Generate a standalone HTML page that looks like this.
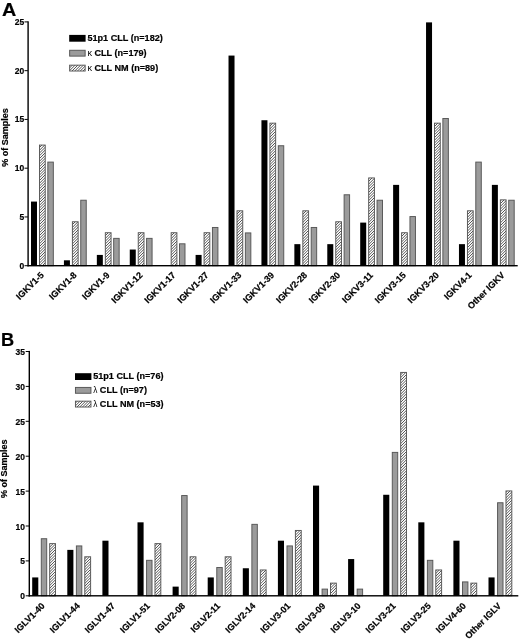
<!DOCTYPE html>
<html lang="en"><head><meta charset="utf-8"><title>IGKV / IGLV usage</title>
<style>html,body{margin:0;padding:0;background:#fff}svg{display:block;will-change:transform}text{font-family:'Liberation Sans', Arial, Helvetica, sans-serif;font-weight:bold;fill:#000;stroke:#000;stroke-width:0.2px}</style>
</head><body>
<svg width="520" height="639" viewBox="0 0 520 639">
<defs><pattern id="h" width="11" height="11" patternUnits="userSpaceOnUse"><rect width="11" height="11" fill="#fff"/><path d="M-1.00,1.00L1.00,-1.00M-1.00,3.75L3.75,-1.00M-1.00,6.50L6.50,-1.00M-1.00,9.25L9.25,-1.00M-1.00,12.00L12.00,-1.00M-1.00,14.75L14.75,-1.00M-1.00,17.50L17.50,-1.00M-1.00,20.25L20.25,-1.00M-1.00,23.00L23.00,-1.00" stroke="#404040" stroke-width="0.9" fill="none"/></pattern></defs>
<rect width="520" height="639" fill="#fff"/>
<text transform="translate(2,15.6) scale(1.04,1)" font-size="19">A</text>
<rect x="31.00" y="201.58" width="6.00" height="64.12" fill="#000"/>
<rect x="39.48" y="145.07" width="5.74" height="120.63" fill="url(#h)" stroke="#555" stroke-width="0.95"/>
<rect x="47.83" y="162.09" width="5.49" height="103.61" fill="#9b9b9b" stroke="#555" stroke-width="0.95"/>
<rect x="63.92" y="260.31" width="6.00" height="5.39" fill="#000"/>
<rect x="72.40" y="221.77" width="5.74" height="43.93" fill="url(#h)" stroke="#555" stroke-width="0.95"/>
<rect x="80.75" y="200.22" width="5.49" height="65.48" fill="#9b9b9b" stroke="#555" stroke-width="0.95"/>
<rect x="96.84" y="254.92" width="6.00" height="10.78" fill="#000"/>
<rect x="105.32" y="232.73" width="5.74" height="32.97" fill="url(#h)" stroke="#555" stroke-width="0.95"/>
<rect x="113.67" y="238.36" width="5.49" height="27.34" fill="#9b9b9b" stroke="#555" stroke-width="0.95"/>
<rect x="129.76" y="249.54" width="6.00" height="16.16" fill="#000"/>
<rect x="138.24" y="232.73" width="5.74" height="32.97" fill="url(#h)" stroke="#555" stroke-width="0.95"/>
<rect x="146.59" y="238.36" width="5.49" height="27.34" fill="#9b9b9b" stroke="#555" stroke-width="0.95"/>
<rect x="171.16" y="232.73" width="5.74" height="32.97" fill="url(#h)" stroke="#555" stroke-width="0.95"/>
<rect x="179.51" y="243.81" width="5.49" height="21.89" fill="#9b9b9b" stroke="#555" stroke-width="0.95"/>
<rect x="195.60" y="254.92" width="6.00" height="10.78" fill="#000"/>
<rect x="204.08" y="232.73" width="5.74" height="32.97" fill="url(#h)" stroke="#555" stroke-width="0.95"/>
<rect x="212.43" y="227.46" width="5.49" height="38.24" fill="#9b9b9b" stroke="#555" stroke-width="0.95"/>
<rect x="228.52" y="55.57" width="6.00" height="210.13" fill="#000"/>
<rect x="237.00" y="210.81" width="5.74" height="54.89" fill="url(#h)" stroke="#555" stroke-width="0.95"/>
<rect x="245.35" y="232.91" width="5.49" height="32.79" fill="#9b9b9b" stroke="#555" stroke-width="0.95"/>
<rect x="261.44" y="120.23" width="6.00" height="145.47" fill="#000"/>
<rect x="269.92" y="123.16" width="5.74" height="142.54" fill="url(#h)" stroke="#555" stroke-width="0.95"/>
<rect x="278.27" y="145.74" width="5.49" height="119.96" fill="#9b9b9b" stroke="#555" stroke-width="0.95"/>
<rect x="294.36" y="244.15" width="6.00" height="21.55" fill="#000"/>
<rect x="302.84" y="210.81" width="5.74" height="54.89" fill="url(#h)" stroke="#555" stroke-width="0.95"/>
<rect x="311.19" y="227.46" width="5.49" height="38.24" fill="#9b9b9b" stroke="#555" stroke-width="0.95"/>
<rect x="327.28" y="244.15" width="6.00" height="21.55" fill="#000"/>
<rect x="335.76" y="221.77" width="5.74" height="43.93" fill="url(#h)" stroke="#555" stroke-width="0.95"/>
<rect x="344.11" y="194.78" width="5.49" height="70.92" fill="#9b9b9b" stroke="#555" stroke-width="0.95"/>
<rect x="360.20" y="222.60" width="6.00" height="43.10" fill="#000"/>
<rect x="368.68" y="177.94" width="5.74" height="87.76" fill="url(#h)" stroke="#555" stroke-width="0.95"/>
<rect x="377.03" y="200.22" width="5.49" height="65.48" fill="#9b9b9b" stroke="#555" stroke-width="0.95"/>
<rect x="393.12" y="184.88" width="6.00" height="80.82" fill="#000"/>
<rect x="401.60" y="232.73" width="5.74" height="32.97" fill="url(#h)" stroke="#555" stroke-width="0.95"/>
<rect x="409.95" y="216.57" width="5.49" height="49.13" fill="#9b9b9b" stroke="#555" stroke-width="0.95"/>
<rect x="426.04" y="22.38" width="6.00" height="243.32" fill="#000"/>
<rect x="434.52" y="123.16" width="5.74" height="142.54" fill="url(#h)" stroke="#555" stroke-width="0.95"/>
<rect x="442.87" y="118.50" width="5.49" height="147.20" fill="#9b9b9b" stroke="#555" stroke-width="0.95"/>
<rect x="458.96" y="244.15" width="6.00" height="21.55" fill="#000"/>
<rect x="467.44" y="210.81" width="5.74" height="54.89" fill="url(#h)" stroke="#555" stroke-width="0.95"/>
<rect x="475.79" y="162.09" width="5.49" height="103.61" fill="#9b9b9b" stroke="#555" stroke-width="0.95"/>
<rect x="491.88" y="184.88" width="6.00" height="80.82" fill="#000"/>
<rect x="500.36" y="199.86" width="5.74" height="65.84" fill="url(#h)" stroke="#555" stroke-width="0.95"/>
<rect x="508.71" y="200.22" width="5.49" height="65.48" fill="#9b9b9b" stroke="#555" stroke-width="0.95"/>
<rect x="27.40" y="21.30" width="1.4" height="245.10" fill="#000"/>
<rect x="27.40" y="265.00" width="490.30" height="1.4" fill="#000"/>
<rect x="24.50" y="265.20" width="3.4" height="1" fill="#000"/>
<text transform="translate(24.20,268.55) scale(0.885,1)" font-size="9.6" text-anchor="end">0</text>
<rect x="24.50" y="216.44" width="3.4" height="1" fill="#000"/>
<text transform="translate(24.20,219.79) scale(0.885,1)" font-size="9.6" text-anchor="end">5</text>
<rect x="24.50" y="167.68" width="3.4" height="1" fill="#000"/>
<text transform="translate(24.20,171.03) scale(0.885,1)" font-size="9.6" text-anchor="end">10</text>
<rect x="24.50" y="118.92" width="3.4" height="1" fill="#000"/>
<text transform="translate(24.20,122.27) scale(0.885,1)" font-size="9.6" text-anchor="end">15</text>
<rect x="24.50" y="70.16" width="3.4" height="1" fill="#000"/>
<text transform="translate(24.20,73.51) scale(0.885,1)" font-size="9.6" text-anchor="end">20</text>
<rect x="24.50" y="21.40" width="3.4" height="1" fill="#000"/>
<text transform="translate(24.20,24.75) scale(0.885,1)" font-size="9.6" text-anchor="end">25</text>
<text transform="translate(7.6,137.5) rotate(-90)" font-size="9" text-anchor="middle">% of Samples</text>
<text transform="translate(44.40,275.70) rotate(-45)" font-size="8.95" text-anchor="end">IGKV1-5</text>
<text transform="translate(77.32,275.70) rotate(-45)" font-size="8.95" text-anchor="end">IGKV1-8</text>
<text transform="translate(110.24,275.70) rotate(-45)" font-size="8.95" text-anchor="end">IGKV1-9</text>
<text transform="translate(143.16,275.70) rotate(-45)" font-size="8.95" text-anchor="end">IGKV1-12</text>
<text transform="translate(176.08,275.70) rotate(-45)" font-size="8.95" text-anchor="end">IGKV1-17</text>
<text transform="translate(209.00,275.70) rotate(-45)" font-size="8.95" text-anchor="end">IGKV1-27</text>
<text transform="translate(241.92,275.70) rotate(-45)" font-size="8.95" text-anchor="end">IGKV1-33</text>
<text transform="translate(274.84,275.70) rotate(-45)" font-size="8.95" text-anchor="end">IGKV1-39</text>
<text transform="translate(307.76,275.70) rotate(-45)" font-size="8.95" text-anchor="end">IGKV2-28</text>
<text transform="translate(340.68,275.70) rotate(-45)" font-size="8.95" text-anchor="end">IGKV2-30</text>
<text transform="translate(373.60,275.70) rotate(-45)" font-size="8.95" text-anchor="end">IGKV3-11</text>
<text transform="translate(406.52,275.70) rotate(-45)" font-size="8.95" text-anchor="end">IGKV3-15</text>
<text transform="translate(439.44,275.70) rotate(-45)" font-size="8.95" text-anchor="end">IGKV3-20</text>
<text transform="translate(472.36,275.70) rotate(-45)" font-size="8.95" text-anchor="end">IGKV4-1</text>
<text transform="translate(505.28,275.70) rotate(-45)" font-size="8.95" text-anchor="end">Other IGKV</text>
<rect x="69.2" y="34.90" width="16.4" height="6.8" fill="#000"/>
<text x="87.40" y="40.85" font-size="9.1">51p1 CLL (n=182)</text>
<rect x="69.65" y="50.27" width="15.5" height="5.85" fill="#9b9b9b" stroke="#555" stroke-width="0.95"/>
<text x="87.40" y="55.75" font-size="9.1"><tspan font-weight="normal" stroke="none">κ</tspan> CLL (n=179)</text>
<rect x="69.65" y="65.17" width="15.5" height="5.85" fill="url(#h)" stroke="#555" stroke-width="0.95"/>
<text x="87.40" y="70.65" font-size="9.1"><tspan font-weight="normal" stroke="none">κ</tspan> CLL NM (n=89)</text>
<text transform="translate(1.1,345.8) scale(1,1)" font-size="18.2">B</text>
<rect x="32.20" y="577.43" width="6.10" height="18.37" fill="#000"/>
<rect x="41.28" y="538.73" width="5.44" height="57.07" fill="#9b9b9b" stroke="#555" stroke-width="0.95"/>
<rect x="49.68" y="543.62" width="5.84" height="52.18" fill="url(#h)" stroke="#555" stroke-width="0.95"/>
<rect x="67.30" y="549.88" width="6.10" height="45.92" fill="#000"/>
<rect x="76.38" y="545.93" width="5.44" height="49.87" fill="#9b9b9b" stroke="#555" stroke-width="0.95"/>
<rect x="84.78" y="556.79" width="5.84" height="39.01" fill="url(#h)" stroke="#555" stroke-width="0.95"/>
<rect x="102.40" y="540.69" width="6.10" height="55.11" fill="#000"/>
<rect x="137.50" y="522.33" width="6.10" height="73.47" fill="#000"/>
<rect x="146.58" y="560.32" width="5.44" height="35.48" fill="#9b9b9b" stroke="#555" stroke-width="0.95"/>
<rect x="154.98" y="543.62" width="5.84" height="52.18" fill="url(#h)" stroke="#555" stroke-width="0.95"/>
<rect x="172.60" y="586.62" width="6.10" height="9.18" fill="#000"/>
<rect x="181.68" y="495.56" width="5.44" height="100.24" fill="#9b9b9b" stroke="#555" stroke-width="0.95"/>
<rect x="190.08" y="556.79" width="5.84" height="39.01" fill="url(#h)" stroke="#555" stroke-width="0.95"/>
<rect x="207.70" y="577.43" width="6.10" height="18.37" fill="#000"/>
<rect x="216.78" y="567.52" width="5.44" height="28.28" fill="#9b9b9b" stroke="#555" stroke-width="0.95"/>
<rect x="225.18" y="556.79" width="5.84" height="39.01" fill="url(#h)" stroke="#555" stroke-width="0.95"/>
<rect x="242.80" y="568.25" width="6.10" height="27.55" fill="#000"/>
<rect x="251.88" y="524.34" width="5.44" height="71.46" fill="#9b9b9b" stroke="#555" stroke-width="0.95"/>
<rect x="260.28" y="569.96" width="5.84" height="25.84" fill="url(#h)" stroke="#555" stroke-width="0.95"/>
<rect x="277.90" y="540.69" width="6.10" height="55.11" fill="#000"/>
<rect x="286.98" y="545.93" width="5.44" height="49.87" fill="#9b9b9b" stroke="#555" stroke-width="0.95"/>
<rect x="295.38" y="530.45" width="5.84" height="65.35" fill="url(#h)" stroke="#555" stroke-width="0.95"/>
<rect x="313.00" y="485.59" width="6.10" height="110.21" fill="#000"/>
<rect x="322.08" y="589.10" width="5.44" height="6.70" fill="#9b9b9b" stroke="#555" stroke-width="0.95"/>
<rect x="330.48" y="583.13" width="5.84" height="12.67" fill="url(#h)" stroke="#555" stroke-width="0.95"/>
<rect x="348.10" y="559.06" width="6.10" height="36.74" fill="#000"/>
<rect x="357.18" y="589.10" width="5.44" height="6.70" fill="#9b9b9b" stroke="#555" stroke-width="0.95"/>
<rect x="383.20" y="494.77" width="6.10" height="101.03" fill="#000"/>
<rect x="392.28" y="452.38" width="5.44" height="143.42" fill="#9b9b9b" stroke="#555" stroke-width="0.95"/>
<rect x="400.68" y="372.41" width="5.84" height="223.39" fill="url(#h)" stroke="#555" stroke-width="0.95"/>
<rect x="418.30" y="522.33" width="6.10" height="73.47" fill="#000"/>
<rect x="427.38" y="560.32" width="5.44" height="35.48" fill="#9b9b9b" stroke="#555" stroke-width="0.95"/>
<rect x="435.78" y="569.96" width="5.84" height="25.84" fill="url(#h)" stroke="#555" stroke-width="0.95"/>
<rect x="453.40" y="540.69" width="6.10" height="55.11" fill="#000"/>
<rect x="462.48" y="581.91" width="5.44" height="13.89" fill="#9b9b9b" stroke="#555" stroke-width="0.95"/>
<rect x="470.88" y="583.13" width="5.84" height="12.67" fill="url(#h)" stroke="#555" stroke-width="0.95"/>
<rect x="488.50" y="577.43" width="6.10" height="18.37" fill="#000"/>
<rect x="497.58" y="502.75" width="5.44" height="93.05" fill="#9b9b9b" stroke="#555" stroke-width="0.95"/>
<rect x="505.98" y="490.94" width="5.84" height="104.86" fill="url(#h)" stroke="#555" stroke-width="0.95"/>
<rect x="28.60" y="350.90" width="1.4" height="245.60" fill="#000"/>
<rect x="28.60" y="595.10" width="489.70" height="1.4" fill="#000"/>
<rect x="25.70" y="595.30" width="3.4" height="1" fill="#000"/>
<text transform="translate(24.90,599.35) scale(0.885,1)" font-size="9.6" text-anchor="end">0</text>
<rect x="25.70" y="560.40" width="3.4" height="1" fill="#000"/>
<text transform="translate(24.90,564.45) scale(0.885,1)" font-size="9.6" text-anchor="end">5</text>
<rect x="25.70" y="525.50" width="3.4" height="1" fill="#000"/>
<text transform="translate(24.90,529.55) scale(0.885,1)" font-size="9.6" text-anchor="end">10</text>
<rect x="25.70" y="490.60" width="3.4" height="1" fill="#000"/>
<text transform="translate(24.90,494.65) scale(0.885,1)" font-size="9.6" text-anchor="end">15</text>
<rect x="25.70" y="455.70" width="3.4" height="1" fill="#000"/>
<text transform="translate(24.90,459.75) scale(0.885,1)" font-size="9.6" text-anchor="end">20</text>
<rect x="25.70" y="420.80" width="3.4" height="1" fill="#000"/>
<text transform="translate(24.90,424.85) scale(0.885,1)" font-size="9.6" text-anchor="end">25</text>
<rect x="25.70" y="385.90" width="3.4" height="1" fill="#000"/>
<text transform="translate(24.90,389.95) scale(0.885,1)" font-size="9.6" text-anchor="end">30</text>
<rect x="25.70" y="351.00" width="3.4" height="1" fill="#000"/>
<text transform="translate(24.90,355.05) scale(0.885,1)" font-size="9.6" text-anchor="end">35</text>
<text transform="translate(7.0,468.8) rotate(-90)" font-size="9" text-anchor="middle">% of Samples</text>
<text transform="translate(45.30,606.50) rotate(-45)" font-size="8.95" text-anchor="end">IGLV1-40</text>
<text transform="translate(80.40,606.50) rotate(-45)" font-size="8.95" text-anchor="end">IGLV1-44</text>
<text transform="translate(115.50,606.50) rotate(-45)" font-size="8.95" text-anchor="end">IGLV1-47</text>
<text transform="translate(150.60,606.50) rotate(-45)" font-size="8.95" text-anchor="end">IGLV1-51</text>
<text transform="translate(185.70,606.50) rotate(-45)" font-size="8.95" text-anchor="end">IGLV2-08</text>
<text transform="translate(220.80,606.50) rotate(-45)" font-size="8.95" text-anchor="end">IGLV2-11</text>
<text transform="translate(255.90,606.50) rotate(-45)" font-size="8.95" text-anchor="end">IGLV2-14</text>
<text transform="translate(291.00,606.50) rotate(-45)" font-size="8.95" text-anchor="end">IGLV3-01</text>
<text transform="translate(326.10,606.50) rotate(-45)" font-size="8.95" text-anchor="end">IGLV3-09</text>
<text transform="translate(361.20,606.50) rotate(-45)" font-size="8.95" text-anchor="end">IGLV3-10</text>
<text transform="translate(396.30,606.50) rotate(-45)" font-size="8.95" text-anchor="end">IGLV3-21</text>
<text transform="translate(431.40,606.50) rotate(-45)" font-size="8.95" text-anchor="end">IGLV3-25</text>
<text transform="translate(466.50,606.50) rotate(-45)" font-size="8.95" text-anchor="end">IGLV4-60</text>
<text transform="translate(501.60,606.50) rotate(-45)" font-size="8.95" text-anchor="end">Other IGLV</text>
<rect x="75" y="373.20" width="16.4" height="6.8" fill="#000"/>
<text x="93.20" y="379.15" font-size="9.1">51p1 CLL (n=76)</text>
<rect x="75.45" y="387.42" width="15.5" height="5.85" fill="#9b9b9b" stroke="#555" stroke-width="0.95"/>
<text x="93.20" y="392.90" font-size="9.1"><tspan font-weight="normal" stroke="none" font-size="8.3">λ</tspan> CLL (n=97)</text>
<rect x="75.45" y="401.17" width="15.5" height="5.85" fill="url(#h)" stroke="#555" stroke-width="0.95"/>
<text x="93.20" y="406.65" font-size="9.1"><tspan font-weight="normal" stroke="none" font-size="8.3">λ</tspan> CLL NM (n=53)</text>
</svg></body></html>
